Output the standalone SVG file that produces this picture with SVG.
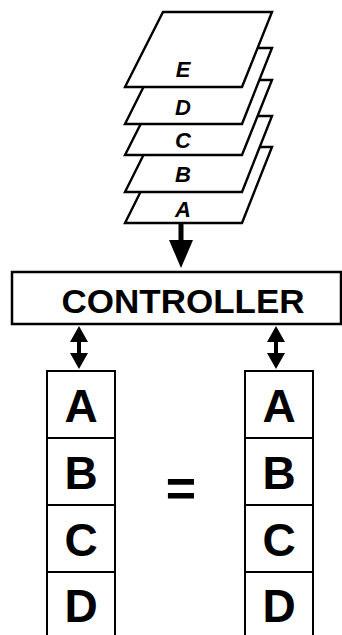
<svg xmlns="http://www.w3.org/2000/svg" width="342" height="635" viewBox="0 0 342 635">
<defs>
<style>
.sheet{fill:#fff;stroke:#000;stroke-width:2.4;stroke-linejoin:miter}
.sl{font-family:"Liberation Sans",Arial,sans-serif;font-weight:bold;font-style:italic;font-size:22px;text-anchor:middle;fill:#000}
.box{fill:#fff;stroke:#000;stroke-width:2.5}
.cell{fill:#fff;stroke:#000;stroke-width:2}
.big{font-family:"Liberation Sans",Arial,sans-serif;font-weight:bold;font-size:46px;text-anchor:middle;fill:#000}
.ctl{font-family:"Liberation Sans",Arial,sans-serif;font-weight:bold;font-size:33px;text-anchor:middle;fill:#000}
.shaft{stroke:#000;stroke-width:5;fill:none}
</style>
</defs>
<rect width="342" height="635" fill="#fff"/>
<g id="sheetA"><polygon class="sheet" points="163,147 272,147 242,223 125,223"/><text class="sl" x="183" y="217">A</text></g>
<g id="sheetB"><polygon class="sheet" points="163,116 272,116 242,192 125,192"/><text class="sl" x="183" y="182">B</text></g>
<g id="sheetC"><polygon class="sheet" points="163,80 272,80 242,155 125,155"/><text class="sl" x="183" y="148">C</text></g>
<g id="sheetD"><polygon class="sheet" points="163,48 272,48 242,124 125,124"/><text class="sl" x="183" y="115">D</text></g>
<g id="sheetE"><polygon class="sheet" points="163,12 272,12 242,87 125,87"/><text class="sl" x="183" y="77">E</text></g>
<g id="controller"><rect class="box" x="12" y="272" width="329" height="52"/><text class="ctl" x="183" y="313" textLength="243" lengthAdjust="spacingAndGlyphs">CONTROLLER</text></g>
<g id="colLeft">
<rect class="cell" x="47" y="371" width="68" height="67"/><rect class="cell" x="47" y="438" width="68" height="67"/><rect class="cell" x="47" y="505" width="68" height="67"/><rect class="cell" x="47" y="572" width="68" height="70"/>
<text class="big" x="81" y="422">A</text><text class="big" x="81" y="489">B</text><text class="big" x="81" y="556">C</text><text class="big" x="81" y="622">D</text>
</g>
<g id="colRight">
<rect class="cell" x="245" y="371" width="68" height="67"/><rect class="cell" x="245" y="438" width="68" height="67"/><rect class="cell" x="245" y="505" width="68" height="67"/><rect class="cell" x="245" y="572" width="68" height="70"/>
<text class="big" x="279" y="422">A</text><text class="big" x="279" y="489">B</text><text class="big" x="279" y="556">C</text><text class="big" x="279" y="622">D</text>
</g>
<g id="equals"><text class="big" x="181" y="506" style="font-size:52px">=</text></g>
<g id="connectors">
<line class="shaft" x1="181" y1="223" x2="181" y2="245"/>
<polygon points="169,240 193,240 181,268" fill="#000"/>
<line class="shaft" x1="79" y1="338" x2="79" y2="356" style="stroke-width:4"/>
<polygon points="70,342 88,342 79,326" fill="#000"/>
<polygon points="70,353 88,353 79,369" fill="#000"/>
<line class="shaft" x1="276" y1="338" x2="276" y2="356" style="stroke-width:4"/>
<polygon points="267,342 285,342 276,326" fill="#000"/>
<polygon points="267,353 285,353 276,369" fill="#000"/>
</g>
</svg>
